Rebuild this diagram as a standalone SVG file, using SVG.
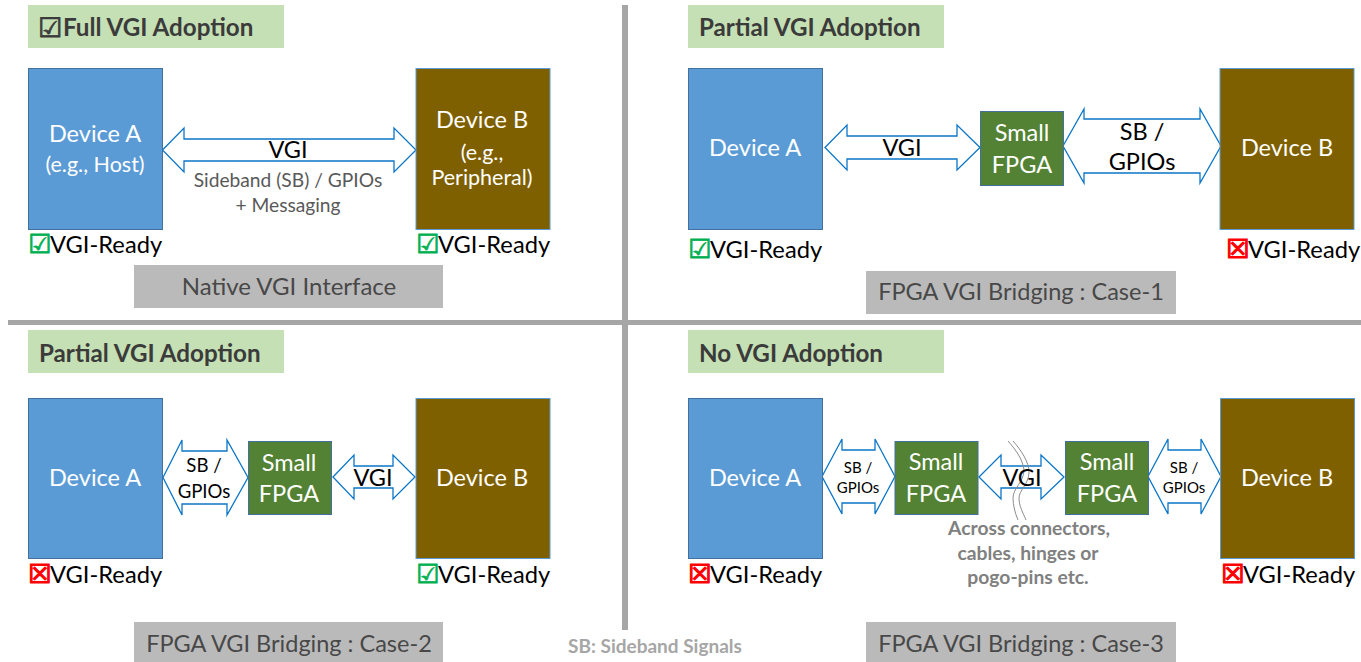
<svg xmlns="http://www.w3.org/2000/svg" width="1361" height="662" viewBox="0 0 1361 662">
<style>
text{font-family:Lato,"Open Sans","Liberation Sans",sans-serif;text-anchor:middle}
.a{fill:#5b9bd5;stroke:#41719c;stroke-width:1}
.b{fill:#7f6000;stroke:#5b9bd5;stroke-width:1}
.f{fill:#548235;stroke:#41719c;stroke-width:1}
.h{fill:#c5e0b4}
.g{fill:#bababa}
.ar{fill:#fff;stroke:#0b76c8;stroke-width:1.3}
.w{fill:#fff;font-size:23.500px}
.ws{fill:#fff;font-size:21.500px}
.t{fill:#3b3b3b;font-size:24.200px;font-weight:700;text-anchor:start}
.c{fill:#484848;font-size:23.500px}
.k{fill:#000;font-size:23.500px}
.s{fill:#000;font-size:15px}
.m{fill:#000;font-size:18.600px}
.r{fill:#000;font-size:23.700px;text-anchor:start}
.sb{fill:#595959;font-size:19.200px}
.ok{fill:#00b050;stroke:#00b050;stroke-width:.8;font-family:"DejaVu Sans",sans-serif;font-size:26px;text-anchor:start}
.no{fill:#f00;stroke:#f00;stroke-width:1.2;font-family:"DejaVu Sans",sans-serif;font-size:26px;text-anchor:start}
.n{fill:#808080;font-size:19.300px;font-weight:700}
.d{fill:none;stroke:#8c8c8c;stroke-width:1}
</style>
<rect x="622" y="5" width="6" height="625" fill="#a6a6a6"/>
<rect x="8" y="320" width="1353" height="5" fill="#a6a6a6"/>

<g id="connectors">
<polygon class="ar" points="162.500,150 184,128 184,139 394,139 394,128 416,150 394,172 394,161 184,161 184,172"/>
<polygon class="ar" points="825,147.500 847,125 847,136 957,136 957,125 980,147.500 957,170 957,159 847,159 847,170"/>
<polygon class="ar" points="1063,146 1084,109 1084,119 1200,119 1200,109 1221,146 1200,183 1200,173 1084,173 1084,183"/>
<polygon class="ar" points="163,477.500 182,440 182,451 227,451 227,440 248,477.500 227,515 227,504 182,504 182,515"/>
<polygon class="ar" points="333,477 354,455 354,466 393,466 393,455 415,477 393,499 393,488 354,488 354,499"/>
<polygon class="ar" points="822,476.500 842,439 842,450 875,450 875,439 895,476.500 875,514 875,503 842,503 842,514"/>
<polygon class="ar" points="979,477 1001,455 1001,466 1041,466 1041,455 1064,477 1041,499 1041,488 1001,488 1001,499"/>
<polygon class="ar" points="1148,476.500 1168,439 1168,450 1201,450 1201,439 1221,476.500 1201,514 1201,503 1168,503 1168,514"/>
<path class="d" d="M1008,441C1016,450 1023,460 1024,470C1024,482 1013,488 1013,498C1013,505 1015,513 1018,520"/>
<path class="d" d="M1013,441C1021,450 1029,462 1029,472C1029,484 1019,490 1019,498C1019,506 1023,513 1026,520"/>
</g>

<g id="panel1-title"><rect class="h" x="28" y="5" width="256" height="43"/><text x="38" y="37" fill="#3b3b3b" stroke="#3b3b3b" stroke-width=".8" font-size="27" style="font-family:'DejaVu Sans',sans-serif;text-anchor:start">☑</text><text class="t" x="63" y="36">Full VGI Adoption</text></g>
<g id="panel1-deviceA"><rect class="a" x="28.500" y="68.500" width="134" height="161"/><text class="w" x="95" y="142">Device A</text><text class="ws" x="95" y="172">(e.g., Host)</text></g>
<g id="panel1-deviceB"><rect class="b" x="416" y="68.500" width="134" height="161"/><text class="w" x="482" y="128">Device B</text><text class="ws" x="482" y="160">(e.g.,</text><text class="ws" x="482" y="185">Peripheral)</text></g>
<g id="panel1-labels"><text class="k" x="288" y="158">VGI</text><text class="sb" x="288" y="187">Sideband (SB) / GPIOs</text><text class="sb" x="288" y="212">+ Messaging</text></g>
<g id="panel1-readyA"><text class="ok" x="28" y="253">☑</text><text class="r" x="50" y="253">VGI-Ready</text></g>
<g id="panel1-readyB"><text class="ok" x="416" y="253">☑</text><text class="r" x="438" y="253">VGI-Ready</text></g>
<g id="panel1-caption"><rect class="g" x="134" y="265" width="309" height="43"/><text class="c" x="289" y="295" style="font-size:24px">Native VGI Interface</text></g>

<g id="panel2-title"><rect class="h" x="688" y="5" width="256" height="43"/><text class="t" x="699" y="36">Partial VGI Adoption</text></g>
<g id="panel2-deviceA"><rect class="a" x="688.500" y="68.500" width="134" height="161"/><text class="w" x="755" y="156">Device A</text></g>
<g id="panel2-fpga"><rect class="f" x="980.500" y="111.500" width="83" height="74"/><text class="w" x="1022" y="141">Small</text><text class="w" x="1022" y="173">FPGA</text></g>
<g id="panel2-deviceB"><rect class="b" x="1220" y="68.500" width="134" height="161"/><text class="w" x="1287" y="156">Device B</text></g>
<g id="panel2-labels"><text class="k" x="902" y="156">VGI</text><text class="k" x="1142" y="140">SB /</text><text class="k" x="1142" y="170">GPIOs</text></g>
<g id="panel2-readyA"><text class="ok" x="688" y="258">☑</text><text class="r" x="710" y="258">VGI-Ready</text></g>
<g id="panel2-readyB"><text class="no" x="1226" y="258">☒</text><text class="r" x="1248" y="258">VGI-Ready</text></g>
<g id="panel2-caption"><rect class="g" x="866" y="271" width="310" height="43"/><text class="c" x="1021" y="300">FPGA VGI Bridging : Case-1</text></g>

<g id="panel3-title"><rect class="h" x="28" y="330" width="256" height="43"/><text class="t" x="39" y="362">Partial VGI Adoption</text></g>
<g id="panel3-deviceA"><rect class="a" x="28.500" y="398.500" width="134" height="160"/><text class="w" x="95" y="486">Device A</text></g>
<g id="panel3-fpga"><rect class="f" x="248.500" y="441.500" width="83" height="73"/><text class="w" x="289" y="471">Small</text><text class="w" x="289" y="502">FPGA</text></g>
<g id="panel3-deviceB"><rect class="b" x="416" y="398.500" width="134" height="160"/><text class="w" x="482" y="486">Device B</text></g>
<g id="panel3-labels"><text class="m" x="204" y="472">SB /</text><text class="m" x="204" y="498">GPIOs</text><text class="k" x="373" y="486">VGI</text></g>
<g id="panel3-readyA"><text class="no" x="28" y="583">☒</text><text class="r" x="50" y="583">VGI-Ready</text></g>
<g id="panel3-readyB"><text class="ok" x="416" y="583">☑</text><text class="r" x="438" y="583">VGI-Ready</text></g>
<g id="panel3-caption"><rect class="g" x="134" y="622" width="309" height="40"/><text class="c" x="289" y="652">FPGA VGI Bridging : Case-2</text></g>

<g id="panel4-title"><rect class="h" x="688" y="330" width="256" height="43"/><text class="t" x="699" y="362">No VGI Adoption</text></g>
<g id="panel4-deviceA"><rect class="a" x="688.500" y="398.500" width="134" height="160"/><text class="w" x="755" y="486">Device A</text></g>
<g id="panel4-fpga1"><rect class="f" x="895" y="441.500" width="83" height="73"/><text class="w" x="936" y="470">Small</text><text class="w" x="936" y="502">FPGA</text></g>
<g id="panel4-fpga2"><rect class="f" x="1065.500" y="441.500" width="83" height="73"/><text class="w" x="1107" y="470">Small</text><text class="w" x="1107" y="502">FPGA</text></g>
<g id="panel4-deviceB"><rect class="b" x="1220.500" y="398.500" width="134" height="160"/><text class="w" x="1287" y="486">Device B</text></g>
<g id="panel4-labels"><text class="s" x="858" y="473">SB /</text><text class="s" x="858" y="493">GPIOs</text><text class="k" x="1022" y="486">VGI</text><text class="s" x="1184" y="473">SB /</text><text class="s" x="1184" y="493">GPIOs</text></g>
<g id="panel4-note"><text class="n" x="1029" y="535">Across connectors,</text><text class="n" x="1028" y="560">cables, hinges or</text><text class="n" x="1028" y="584">pogo-pins etc.</text></g>
<g id="panel4-readyA"><text class="no" x="688" y="583">☒</text><text class="r" x="710" y="583">VGI-Ready</text></g>
<g id="panel4-readyB"><text class="no" x="1221" y="583">☒</text><text class="r" x="1243" y="583">VGI-Ready</text></g>
<g id="panel4-caption"><rect class="g" x="866" y="622" width="310" height="40"/><text class="c" x="1021" y="652">FPGA VGI Bridging : Case-3</text></g>

<text x="655" y="653" fill="#a6a6a6" font-size="19" font-weight="700">SB: Sideband Signals</text>
</svg>
